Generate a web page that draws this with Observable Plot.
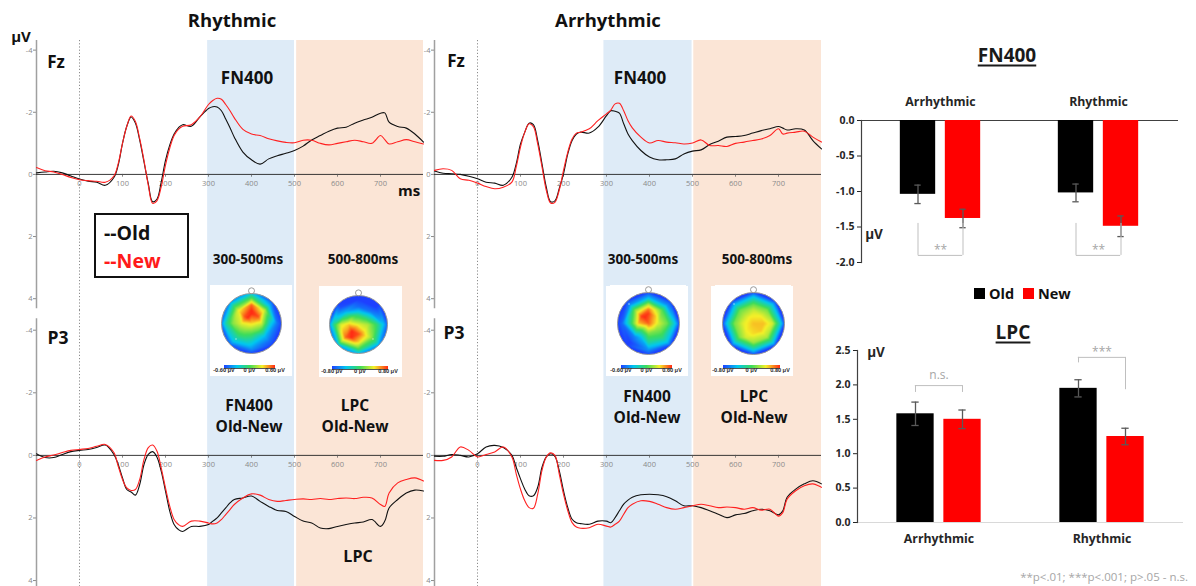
<!DOCTYPE html>
<html><head><meta charset="utf-8">
<script src="https://cdn.jsdelivr.net/npm/d3@7"></script>
<script src="https://cdn.jsdelivr.net/npm/@observablehq/plot@0.6"></script>
<style>
body{margin:0;background:#fff;}
#root{position:relative;width:1196px;height:586px;overflow:hidden;font-family:"Open Sans",sans-serif;background:#fff;}
.abs{position:absolute;}
.lbl{position:absolute;transform:translate(-50%,-50%);white-space:nowrap;font-weight:700;color:#111;line-height:1;}
</style></head><body><div id="root"></div>
<script>
// ---------- ERP data (µV, negative up) ----------
const times = [-100,-80,-60,-40,-20,0,20,40,60,80,90,100,110,120,130,140,150,160,170,180,190,200,210,220,230,240,260,280,300,310,320,330,340,350,360,380,400,420,440,460,480,500,520,540,560,580,600,620,640,660,680,700,710,720,740,760,780,800];
const rhyFzOld = [-0.05,-0.08,-0.1,-0.05,0.05,0.15,0.22,0.25,0.35,0.1,-0.3,-1.0,-1.55,-1.85,-1.65,-1.1,-0.4,0.3,0.88,0.8,0.25,-0.45,-0.95,-1.3,-1.5,-1.6,-1.55,-1.85,-2.12,-2.18,-2.17,-2.05,-1.78,-1.5,-1.2,-0.72,-0.47,-0.33,-0.5,-0.6,-0.68,-0.77,-0.91,-1.11,-1.25,-1.39,-1.49,-1.52,-1.65,-1.75,-1.84,-1.97,-1.98,-1.68,-1.54,-1.49,-1.3,-1.04];
const rhyFzNew = [-0.22,-0.12,-0.08,0.0,0.1,0.17,0.2,0.22,0.25,0.05,-0.35,-1.0,-1.55,-1.88,-1.7,-1.15,-0.45,0.35,0.93,0.85,0.4,-0.3,-0.85,-1.25,-1.45,-1.55,-1.6,-1.85,-2.25,-2.38,-2.45,-2.42,-2.25,-2.05,-1.82,-1.45,-1.3,-1.25,-1.15,-1.08,-1.03,-1.02,-1.1,-1.1,-1.0,-0.95,-1.0,-1.05,-1.1,-1.05,-1.0,-1.25,-1.12,-0.98,-1.05,-1.12,-1.05,-0.98];
const rhyP3Old = [-0.05,0.07,0.07,-0.03,-0.12,-0.16,-0.19,-0.25,-0.33,-0.03,0.29,0.72,1.09,1.17,1.27,0.93,0.29,-0.03,-0.12,0.05,0.5,1.14,1.79,2.21,2.37,2.43,2.27,2.27,2.21,2.1,2.0,1.84,1.68,1.52,1.41,1.36,1.3,1.47,1.63,1.76,1.79,1.95,2.1,2.16,2.32,2.34,2.27,2.21,2.16,2.13,2.05,2.27,2.1,1.68,1.41,1.2,1.11,1.14];
const rhyP3New = [0.16,0.05,-0.01,-0.09,-0.16,-0.19,-0.22,-0.29,-0.35,-0.09,0.34,0.77,1.04,1.12,1.09,0.77,0.13,-0.25,-0.33,-0.14,0.4,1.04,1.63,2.05,2.21,2.27,2.1,2.1,2.16,2.19,2.16,2.05,1.89,1.73,1.57,1.36,1.23,1.27,1.41,1.47,1.44,1.41,1.39,1.41,1.38,1.41,1.38,1.36,1.38,1.34,1.36,1.57,1.63,1.2,0.88,0.77,0.72,0.82];
const arrFzOld = [-0.11,-0.04,-0.02,0.0,0.06,0.14,0.25,0.28,0.35,0.09,-0.34,-0.98,-1.36,-1.65,-1.6,-1.09,-0.34,0.41,0.88,0.85,0.46,-0.02,-0.66,-1.09,-1.3,-1.36,-1.33,-1.52,-1.89,-2.05,-2.03,-1.97,-1.63,-1.3,-1.09,-0.77,-0.56,-0.47,-0.47,-0.5,-0.66,-0.75,-0.79,-0.96,-1.07,-1.2,-1.22,-1.25,-1.33,-1.41,-1.47,-1.54,-1.49,-1.43,-1.47,-1.43,-1.09,-0.82];
const arrFzNew = [-0.13,-0.18,-0.13,0.14,0.19,0.28,0.39,0.46,0.41,0.25,-0.24,-0.88,-1.36,-1.63,-1.54,-0.98,-0.24,0.51,0.92,0.9,0.51,-0.13,-0.72,-1.14,-1.33,-1.36,-1.47,-1.73,-1.95,-2.07,-2.27,-2.29,-2.05,-1.73,-1.5,-1.2,-1.01,-1.09,-1.04,-1.02,-0.98,-1.01,-1.11,-0.93,-0.93,-0.9,-1.0,-1.04,-1.09,-1.14,-1.25,-1.47,-1.3,-1.33,-1.36,-1.39,-1.2,-1.04];
const arrP3Old = [0.03,0.03,-0.03,0.0,0.05,-0.05,-0.27,-0.32,-0.25,0.0,0.38,0.75,1.08,1.29,1.29,1.02,0.38,0.05,-0.05,0.03,0.48,1.13,1.67,2.04,2.15,2.18,2.2,2.1,2.1,2.15,1.99,1.77,1.56,1.43,1.34,1.26,1.24,1.26,1.32,1.45,1.61,1.61,1.67,1.77,1.88,1.99,1.9,1.86,1.77,1.72,1.77,1.9,1.77,1.34,1.08,0.91,0.81,0.91];
const arrP3New = [0.16,0.16,0.05,-0.27,-0.16,0.05,-0.03,-0.11,-0.27,0.05,0.59,1.08,1.45,1.67,1.69,1.24,0.48,0.05,-0.08,0.0,0.59,1.24,1.77,2.15,2.29,2.33,2.31,2.2,2.26,2.29,2.2,2.1,1.88,1.67,1.56,1.45,1.47,1.56,1.67,1.72,1.67,1.61,1.56,1.61,1.67,1.65,1.67,1.72,1.67,1.75,1.72,1.94,1.83,1.4,1.13,0.97,0.91,1.02];
const xTicks = [0,100,200,300,400,500,600,700];
const yTicks = [-4,-2,0,2,4];
// analysis windows (ms)
const rhyBlue = [298, 500], rhyPeach = [505, 800];
const arrBlue = [294, 499], arrPeach = [503, 800];

// ---------- Bar chart data ----------
const groups = ["Arrhythmic", "Rhythmic"];
const fn400Old = [-1.04, -1.02], fn400OldErr = [0.13, 0.125];
const fn400New = [-1.38, -1.49], fn400NewErr = [0.13, 0.145];
const fn400ArmOld = [-1.45, -1.45], fn400ArmNew = [-1.45, -1.45], fn400BrY = [-1.90, -1.90];
const fn400SigY = [-1.82, -1.82], fn400Sig = ["**", "**"];
const fn400Ticks = [0, -0.5, -1, -1.5, -2];
const lpcOld = [1.58, 1.95], lpcOldErr = [0.17, 0.125];
const lpcNew = [1.50, 1.25], lpcNewErr = [0.135, 0.12];
const lpcArmOld = [1.89, 2.32], lpcArmNew = [1.89, 1.93], lpcBrY = [1.99, 2.40];
const lpcSigY = [2.14, 2.48], lpcSig = ["n.s.", "***"];
const lpcTicks = [0, 0.5, 1, 1.5, 2, 2.5];

// ---------- Topographic map samples (normalized amplitude) ----------
// order: centre; rings r=.33, .62, .85, 1.02 (N, NE, E, SE, S, SW, W, NW); extra points
const topoX = [0,
  0,0.23,0.33,0.23,0,-0.23,-0.33,-0.23,
  0,0.44,0.62,0.44,0,-0.44,-0.62,-0.44,
  0,0.6,0.85,0.6,0,-0.6,-0.85,-0.6,
  0,0.72,1.02,0.72,0,-0.72,-1.02,-0.72,
  -0.25,-0.12,0];
const topoY = [0,
  0.33,0.23,0,-0.23,-0.33,-0.23,0,0.23,
  0.62,0.44,0,-0.44,-0.62,-0.44,0,0.44,
  0.85,0.6,0,-0.6,-0.85,-0.6,0,0.6,
  1.02,0.72,0,-0.72,-1.02,-0.72,0,0.72,
  -0.45,0.2,0.45];
const topoRhyFN = [0.55,
  1.0,0.9,0.4,0.1,0.05,0.2,0.45,0.9,
  0.85,0.35,-0.4,-0.55,-0.4,-0.15,0.2,0.45,
  0.05,-0.55,-0.8,-0.85,-0.7,-0.5,-0.25,-0.15,
  -0.5,-0.95,-1,-1,-1,-0.9,-0.8,-0.7,
  -0.1,1.0,1.0];
const topoRhyLPC = [0.45,
  -0.15,-0.1,0.3,0.5,0.9,1.0,0.6,0.15,
  -0.85,-0.8,-0.05,0.25,0.55,0.85,0.4,-0.6,
  -1,-1,-0.5,-0.2,0.0,0.2,-0.15,-0.95,
  -1,-1,-0.9,-0.7,-0.6,-0.6,-0.75,-1,
  1.0,0.1,-0.5];
const topoArrFN = [0.85,
  0.95,0.6,0.4,0.2,0.15,-0.05,0.6,0.95,
  0.3,0.05,0.1,-0.1,-0.25,-0.75,-0.25,0.15,
  -0.6,-0.7,-0.45,-0.5,-0.7,-1,-0.85,-0.7,
  -1,-1,-1,-1,-1,-1,-1,-1,
  -0.55,1.0,0.8];
const topoArrLPC = [0.62,
  0.45,0.5,0.62,0.6,0.55,0.5,0.45,0.4,
  0.1,0.15,0.4,0.3,0.25,0.2,0.15,0.1,
  -0.45,-0.45,-0.3,-0.35,-0.4,-0.4,-0.45,-0.5,
  -1,-1,-1,-1,-1,-1,-1,-1,
  0.4,0.5,0.35];
const topoDomain = [-1, -0.5, 0, 0.5, 1];
const topoColors = ["#1e40ff", "#00c8f0", "#3cdc5a", "#f5f028", "#ff2a14"];

// ---------- helpers ----------
const root = document.getElementById("root");
function place(node, left, top) {
  const d = document.createElement("div");
  d.className = "abs"; d.style.left = left + "px"; d.style.top = top + "px";
  d.appendChild(node); root.appendChild(d); return d;
}
function label(text, cx, cy, size, extra = {}) {
  const d = document.createElement("div");
  d.className = "lbl"; d.textContent = text;
  d.style.left = cx + "px"; d.style.top = cy + "px"; d.style.fontSize = size + "px";
  Object.assign(d.style, extra); root.appendChild(d); return d;
}
function box(left, top, w, h, css) {
  const d = document.createElement("div");
  d.className = "abs"; d.style.left = left + "px"; d.style.top = top + "px";
  d.style.width = w + "px"; d.style.height = h + "px"; Object.assign(d.style, css);
  root.appendChild(d); return d;
}

function erp(o) {
  return Plot.plot({
    width: o.width, height: o.height,
    marginLeft: o.mL, marginRight: o.mR, marginTop: 0, marginBottom: 0,
    x: {domain: [-100, 800], axis: null},
    y: {domain: o.yDomain, ticks: yTicks, tickSize: 3, tickPadding: 1, tickFormat: d => String(d), label: null},
    style: {background: "transparent", overflow: "visible", color: "#8a8a8a", fontSize: "7.5px", fontFamily: "Open Sans"},
    marks: [
      Plot.rect([0], {x1: o.blue[0], x2: o.blue[1], fill: "#deebf7"}),
      Plot.rect([0], {x1: o.peach[0], x2: o.peach[1], fill: "#fbe5d6"}),
      Plot.ruleX([0], {stroke: "#8c8c8c", strokeDasharray: "1.2,2"}),
      Plot.ruleX([-100], {y1: o.axis[0], y2: o.axis[1], stroke: "#a0a0a0", strokeWidth: 1.5}),
      Plot.ruleY([0], {stroke: "#222", strokeWidth: 0.9}),
      Plot.ruleX(xTicks, {x: d => d, y1: 0, y2: 0.09, stroke: "#555", strokeWidth: 0.7}),
      Plot.text(xTicks, {x: d => d, y: 0, dy: 9, text: d => String(d), fontSize: 7.5, fill: "#8a8a8a"}),
      Plot.line(times, {x: times, y: o.old, stroke: "#111", strokeWidth: 1.1, curve: "catmull-rom"}),
      Plot.line(times, {x: times, y: o.neu, stroke: "#ff2020", strokeWidth: 1.1, curve: "catmull-rom"})
    ]
  });
}

const topDom = [4.38, -4.31], botDom = [4.19, -4.63];
const topAxis = [-4.31, 4.32], botAxis = [-4.37, 4.19];
place(erp({width: 424, height: 270, mL: 36, mR: 1, yDomain: topDom, axis: topAxis, blue: rhyBlue, peach: rhyPeach, old: rhyFzOld, neu: rhyFzNew}), 0, 40);
place(erp({width: 424, height: 276, mL: 36, mR: 1, yDomain: botDom, axis: botAxis, blue: rhyBlue, peach: rhyPeach, old: rhyP3Old, neu: rhyP3New}), 0, 310);
place(erp({width: 397, height: 270, mL: 10, mR: 0, yDomain: topDom, axis: topAxis, blue: arrBlue, peach: arrPeach, old: arrFzOld, neu: arrFzNew}), 424, 40);
place(erp({width: 397, height: 276, mL: 10, mR: 0, yDomain: botDom, axis: botAxis, blue: arrBlue, peach: arrPeach, old: arrP3Old, neu: arrP3New}), 424, 310);

// ---------- ERP annotations ----------
label("Rhythmic", 232, 20, 18.5);
label("Arrhythmic", 608, 20, 18.5);
label("µV", 21, 36, 15);
label("Fz", 56, 61, 17);
label("P3", 58, 338, 17.5);
label("Fz", 456, 60, 17);
label("P3", 454, 333, 17.5);
label("ms", 409, 190, 15);
label("FN400", 247, 77, 17);
label("FN400", 640, 77, 17);
label("300-500ms", 248, 260, 13.5);
label("500-800ms", 363, 260, 13.5);
label("300-500ms", 643, 260, 13.5);
label("500-800ms", 757, 260, 13.5);
label("FN400", 249, 406, 15.5); label("Old-New", 249, 427, 15.5);
label("LPC", 355, 406, 15.5); label("Old-New", 355, 427, 15.5);
label("FN400", 647, 397, 15.5); label("Old-New", 647, 418, 15.5);
label("LPC", 754, 397, 15.5); label("Old-New", 754, 418, 15.5);
label("LPC", 358, 556, 16);

// legend box
box(94, 213, 95, 65, {border: "2px solid #111", boxSizing: "border-box", background: "#fff"});
label("--Old", 104, 233, 19.5, {transform: "translate(0,-50%)", color: "#111"});
label("--New", 104, 261, 19.5, {transform: "translate(0,-50%)", color: "#ff1a1a"});

// ---------- topographic maps ----------
function topo(o) {
  box(o.box[0], o.box[1], o.box[2], o.box[3], {background: "#fff"});
  const S = 76, half = S / 2 / o.R;
  const svg = Plot.plot({
    width: S, height: S, margin: 0,
    x: {domain: [-half, half], axis: null},
    y: {domain: [-half, half], axis: null},
    color: {type: "linear", domain: topoDomain, range: topoColors, interpolate: "rgb", clamp: true},
    style: {background: "transparent"},
    marks: [
      Plot.raster(topoX, {x: topoX, y: topoY, fill: o.vals, interpolate: "barycentric", x1: -half, x2: half, y1: -half, y2: half}),
      Plot.dot([0], {x: 0, y: 0, r: o.R + 26, stroke: "white", strokeWidth: 52, fill: "none"}),
      Plot.dot([0], {x: 0, y: 1.09, r: 3, stroke: "#999", strokeWidth: 1, fill: "white"}),
      Plot.dot([0], {x: 0, y: 0, r: o.R, stroke: "#999", strokeWidth: 1, fill: "none"})
    ]
  });
  place(svg, o.cx - S / 2, o.cy - S / 2);
  box(o.bar[0], o.bar[1], o.bar[2], 2.5, {background: "linear-gradient(to right," + topoColors.join(",") + ")", borderBottom: "0.5px solid #555"});
  const st = {fontWeight: "700", color: "#333"};
  label("-" + o.lim + " µV", o.bar[0], o.bar[1] + 5.5, 5.5, st);
  label("0 µV", o.bar[0] + o.bar[2] / 2, o.bar[1] + 5.5, 5.5, st);
  label(o.lim + " µV", o.bar[0] + o.bar[2], o.bar[1] + 5.5, 5.5, st);
}
topo({box: [210, 285, 82, 91], cx: 251, cy: 323, R: 30, vals: topoRhyFN, bar: [224, 365, 51], lim: "0.60"});
topo({box: [319, 286, 83, 91], cx: 358, cy: 324, R: 29, vals: topoRhyLPC, bar: [332, 366, 56], lim: "0.80"});
topo({box: [606, 286, 82, 90], cx: 648, cy: 322.5, R: 31, vals: topoArrFN, bar: [621, 365, 51], lim: "0.60"});
topo({box: [711, 286, 82, 90], cx: 752.5, cy: 322.5, R: 31, vals: topoArrLPC, bar: [723, 365, 57], lim: "0.80"});

// ---------- bar charts ----------
function barChart(o) {
  const inner = o.width - o.mL - o.mR;
  const pi = 0.1, po = 0.05;
  const step = inner / (groups.length - pi + 2 * po);
  const bw = step * (1 - pi);
  const off = o.gap / 2 + o.barW / 2;
  const inOld = {insetLeft: bw / 2 - off - o.barW / 2, insetRight: bw / 2 + off - o.barW / 2};
  const inNew = {insetLeft: bw / 2 + off - o.barW / 2, insetRight: bw / 2 - off - o.barW / 2};
  const cap = 3.5;
  const capOld = {insetLeft: bw / 2 - off - cap, insetRight: bw / 2 + off - cap};
  const capNew = {insetLeft: bw / 2 + off - cap, insetRight: bw / 2 - off - cap};
  const br = {insetLeft: bw / 2 - off, insetRight: bw / 2 - off};
  const minus = (v, e) => v.map((d, i) => d - e[i]);
  const plus = (v, e) => v.map((d, i) => d + e[i]);
  const eb = {stroke: "#595959", strokeWidth: 1.3};
  const bk = {stroke: "#bfbfbf", strokeWidth: 1};
  return Plot.plot({
    width: o.width, height: o.height,
    marginLeft: o.mL, marginRight: o.mR, marginTop: o.mT, marginBottom: o.mB,
    x: {type: "band", domain: groups, paddingInner: pi, paddingOuter: po, axis: null},
    y: {domain: o.yDomain, ticks: o.ticks, tickFormat: d => d.toFixed(1), tickSize: 4, tickPadding: 3, label: null},
    style: {background: "transparent", overflow: "visible", color: "#262626", fontSize: "10.5px", fontWeight: "bold", fontFamily: "Open Sans"},
    marks: [
      Plot.ruleY([0], {stroke: o.zeroColor, strokeWidth: 1}),
      Plot.barY(groups, {x: groups, y: o.old, fill: "#000", ...inOld}),
      Plot.barY(groups, {x: groups, y: o.neu, fill: "#ff0000", ...inNew}),
      Plot.ruleX(groups, {x: groups, y1: minus(o.old, o.oldErr), y2: plus(o.old, o.oldErr), dx: -off, ...eb}),
      Plot.tickY(groups, {x: groups, y: minus(o.old, o.oldErr), ...capOld, ...eb}),
      Plot.tickY(groups, {x: groups, y: plus(o.old, o.oldErr), ...capOld, ...eb}),
      Plot.ruleX(groups, {x: groups, y1: minus(o.neu, o.neuErr), y2: plus(o.neu, o.neuErr), dx: off, ...eb}),
      Plot.tickY(groups, {x: groups, y: minus(o.neu, o.neuErr), ...capNew, ...eb}),
      Plot.tickY(groups, {x: groups, y: plus(o.neu, o.neuErr), ...capNew, ...eb}),
      Plot.tickY(groups, {x: groups, y: o.brY, ...br, ...bk}),
      Plot.ruleX(groups, {x: groups, y1: o.armOld, y2: o.brY, dx: -off, ...bk}),
      Plot.ruleX(groups, {x: groups, y1: o.armNew, y2: o.brY, dx: off, ...bk}),
      Plot.text(groups, {x: groups, y: o.sigY, text: o.sig, fill: "#a6a6a6", fontWeight: "normal", fontSize: 12}),
      Plot.text(groups, {x: groups, text: groups, frameAnchor: o.labelAnchor, dy: o.labelDy, fontSize: 12.3, fill: "#262626"}),
      Plot.frame({anchor: "left", stroke: "#404040", strokeWidth: 1.2})
    ]
  });
}
place(barChart({width: 376, height: 182, mL: 41, mR: 18, mT: 35, mB: 5, yDomain: [-2, 0], ticks: fn400Ticks,
  old: fn400Old, oldErr: fn400OldErr, neu: fn400New, neuErr: fn400NewErr, barW: 36, gap: 9, zeroColor: "#404040",
  armOld: fn400ArmOld, armNew: fn400ArmNew, brY: fn400BrY, sigY: fn400SigY, sig: fn400Sig, labelAnchor: "top", labelDy: -23}), 820, 85);
place(barChart({width: 376, height: 217, mL: 37, mR: 13, mT: 15, mB: 30, yDomain: [0, 2.5], ticks: lpcTicks,
  old: lpcOld, oldErr: lpcOldErr, neu: lpcNew, neuErr: lpcNewErr, barW: 37, gap: 10, zeroColor: "#d9d9d9",
  armOld: lpcArmOld, armNew: lpcArmNew, brY: lpcBrY, sigY: lpcSigY, sig: lpcSig, labelAnchor: "bottom", labelDy: 20}), 820, 335);

// titles & legend of bar charts
label("FN400", 1007, 55, 19, {textDecoration: "underline", textDecorationThickness: "2px", textUnderlineOffset: "3px", color: "#1a1a1a"});
label("LPC", 1013, 332, 19, {textDecoration: "underline", textDecorationThickness: "2px", textUnderlineOffset: "3px", color: "#1a1a1a"});
label("µV", 874, 235, 13.5, {color: "#262626"});
label("µV", 876, 353, 13.5, {color: "#262626"});
box(974, 288, 11, 11, {background: "#000"});
label("Old", 989, 294, 14.5, {transform: "translate(0,-50%)", color: "#111"});
box(1023, 288, 11, 11, {background: "#ff0000"});
label("New", 1038, 294, 14.5, {transform: "translate(0,-50%)", color: "#111"});
label("**p<.01; ***p<.001; p>.05 - n.s.", 1188, 577, 11.5, {transform: "translate(-100%,-50%)", fontWeight: "400", color: "#a6a6a6"});
</script></body></html>
